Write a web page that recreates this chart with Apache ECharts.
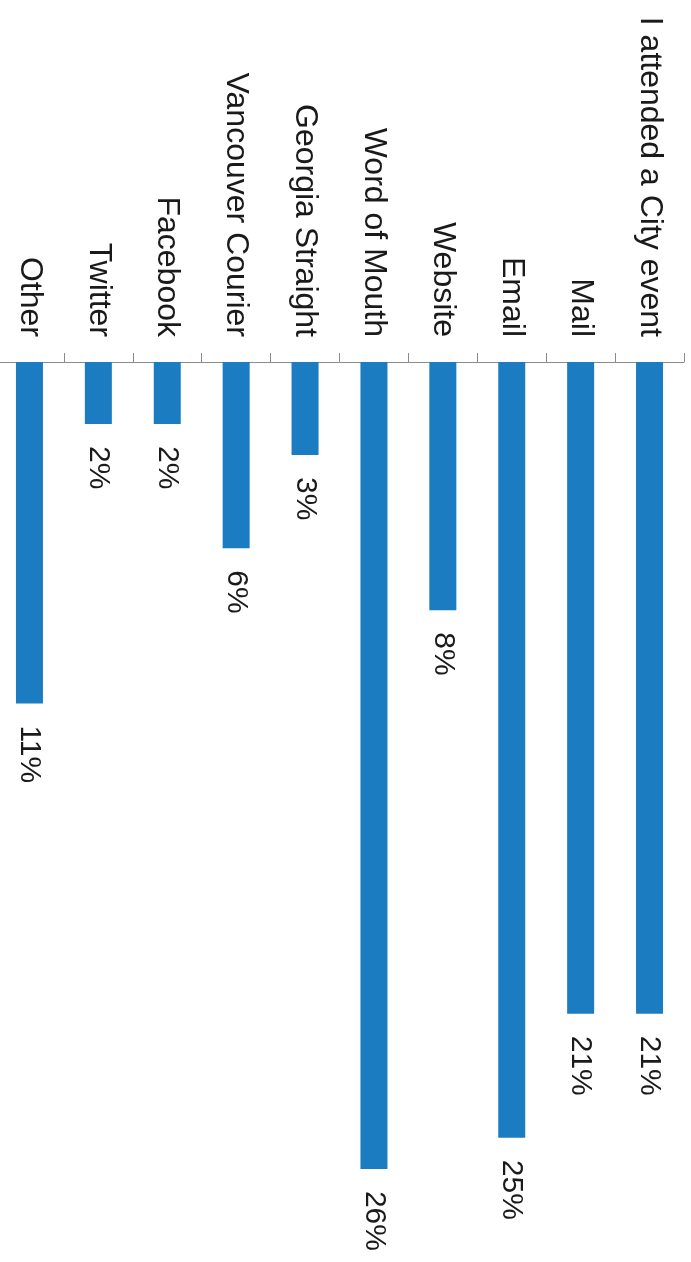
<!DOCTYPE html>
<html>
<head>
<meta charset="utf-8">
<script src="https://cdn.jsdelivr.net/npm/echarts@6/dist/echarts.min.js"></script>
<style>html,body{margin:0;padding:0;background:#fff;overflow:hidden;}#c{position:absolute;left:-5px;top:0;width:696px;height:1262px;}</style>
</head>
<body>
<div id="c"></div>
<script>
const categories = ["Other", "Twitter", "Facebook", "Vancouver Courier", "Georgia Straight", "Word of Mouth", "Website", "Email", "Mail", "I attended a City event"];
const values = [11, 2, 2, 6, 3, 26, 8, 25, 21, 21];

const chart = echarts.init(document.getElementById('c'));
chart.setOption({
  animation: false,
  backgroundColor: '#ffffff',
  grid: { left: 0, right: 7, top: 362, bottom: 0, containLabel: false },
  xAxis: {
    type: 'category',
    position: 'top',
    data: categories,
    axisLine: { show: true, lineStyle: { color: '#8c8c8c', width: 1 } },
    axisTick: { show: true, length: 9, lineStyle: { color: '#8c8c8c' } },
    axisLabel: {
      rotate: -90,
      margin: 25,
      interval: 0,
      fontFamily: 'Liberation Sans, Arial, sans-serif',
      fontSize: 32,
      color: '#1a1a1a'
    }
  },
  yAxis: {
    type: 'value',
    inverse: true,
    min: 0,
    max: 29,
    show: false,
    splitLine: { show: false }
  },
  series: [{
    type: 'bar',
    data: values,
    barWidth: 27,
    itemStyle: { color: '#1b7cc1' },
    label: {
      show: true,
      position: 'bottom',
      distance: 22,
      rotate: -90,
      align: 'left',
      verticalAlign: 'middle',
      formatter: '{c}%',
      fontFamily: 'Liberation Sans, Arial, sans-serif',
      fontSize: 30,
      color: '#1a1a1a'
    }
  }]
});
</script>
</body>
</html>
